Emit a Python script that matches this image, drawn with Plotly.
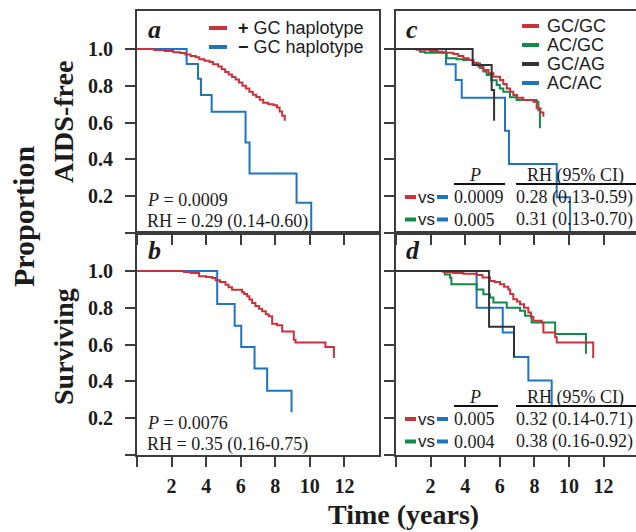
import plotly.graph_objects as go

W, H = 636, 532

# ---------------- data ----------------
# panel a: AIDS-free, by GC haplotype
a_pos_t = [0, 1.0, 1.6, 2.1, 2.5, 2.8, 3.1, 3.4, 3.6, 3.9, 4.2, 4.4, 4.7, 4.9, 5.1, 5.3, 5.5, 5.7,
           5.9, 6.1, 6.3, 6.5, 6.7, 6.9, 7.1, 7.3, 7.6, 7.9, 8.1, 8.25, 8.4, 8.55]
a_pos_s = [1.0, .995, .99, .983, .978, .97, .963, .955, .945, .937, .93, .918, .905, .89, .875, .862, .848, .835,
           .818, .80, .785, .768, .752, .74, .725, .708, .70, .695, .683, .66, .638, .61]
a_neg_t = [0, 2.87, 3.53, 3.70, 4.32, 6.28, 6.51, 9.23, 10.08]
a_neg_s = [1.0, .919, .838, .750, .659, .492, .323, .165, 0.0]

# panel b: surviving, by GC haplotype
b_pos_t = [0, 2.72, 3.1, 3.59, 4.0, 4.35, 4.55, 4.8, 5.12, 5.3, 5.5, 6.08, 6.2, 6.37, 6.5, 6.66, 6.85, 7.05,
           7.24, 7.45, 7.62, 7.82, 8.1, 8.4, 9.07, 9.17, 10.9, 11.39]
b_pos_s = [1.0, .995, .99, .972, .968, .963, .95, .94, .926, .912, .899, .885, .875, .863, .845, .827, .81, .795,
           .781, .765, .754, .714, .705, .672, .627, .612, .587, .527]
b_neg_t = [0, 4.64, 5.65, 6.03, 6.80, 7.53, 8.94]
b_neg_s = [1.0, .821, .703, .587, .470, .350, .233]

# panel c: AIDS-free, by genotype
c_gcgc_t = [0, 1.19, 1.96, 2.4, 2.73, 3.31, 3.6, 3.89, 4.2, 4.47, 4.75, 5.05, 5.35, 5.63, 6.01, 6.2, 6.4,
            6.6, 6.78, 7.0, 7.36, 7.94, 8.13, 8.35, 8.52]
c_gcgc_s = [1.0, .996, .99, .985, .98, .973, .962, .95, .94, .926, .905, .886, .868, .85, .832, .81, .786,
            .768, .75, .735, .723, .714, .678, .655, .632]
c_acgc_t = [0, 1.39, 1.68, 2.93, 3.5, 3.89, 4.47, 4.86, 5.05, 5.24, 5.5, 5.82, 6.0, 6.2, 6.59, 6.97, 8.13, 8.23, 8.32]
c_acgc_s = [1.0, .985, .98, .95, .945, .94, .922, .897, .878, .859, .83, .804, .785, .768, .738, .723, .714, .667, .569]
c_gcag_t = [0, 4.43, 5.53, 5.67]
c_gcag_s = [1.0, .913, .777, .61]
c_acac_t = [0, 2.89, 3.45, 3.80, 6.30, 6.53, 9.29, 10.06]
c_acac_s = [1.0, .917, .832, .735, .556, .375, .194, 0.0]

# panel d: surviving, by genotype
d_gcgc_t = [0, 2.74, 3.3, 3.89, 4.66, 5.0, 5.43, 5.7, 6.01, 6.25, 6.49, 6.6, 6.78, 7.0, 7.17, 7.4, 7.65,
            7.8, 7.94, 8.42, 8.52, 9.2, 9.29, 11.4]
d_gcgc_s = [1.0, .993, .99, .985, .978, .965, .946, .94, .928, .915, .90, .875, .847, .835, .82, .80, .775,
            .75, .73, .72, .666, .64, .612, .528]
d_acgc_t = [0, 2.83, 3.12, 3.2, 4.66, 5.05, 5.43, 5.63, 6.4, 7.17, 7.46, 7.84, 9.2, 10.98]
d_acgc_s = [1.0, .982, .964, .928, .90, .874, .856, .829, .80, .784, .757, .72, .658, .55]
d_gcag_t = [0, 5.38, 6.82]
d_gcag_s = [1.0, .697, .531]
d_acac_t = [0, 4.66, 6.17, 6.82, 7.65, 9.0]
d_acac_s = [1.0, .801, .666, .533, .405, .27]

x_tick_vals = [0, 2, 4, 6, 8, 10, 12]
x_tick_text = ["", "2", "4", "6", "8", "10", "12"]
y_tick_vals = [0, 0.2, 0.4, 0.6, 0.8, 1.0]
y_tick_text = ["", "0.2", "0.4", "0.6", "0.8", "1.0"]

legend_a = ["<b>+</b> GC haplotype", "<b>\u2212</b> GC haplotype"]
legend_c = ["GC/GC", "AC/GC", "GC/AG", "AC/AC"]
stats_a = ["<i>P</i> = 0.0009", "RH = 0.29 (0.14-0.60)"]
stats_b = ["<i>P</i> = 0.0076", "RH = 0.35 (0.16-0.75)"]
table_c_p = ["0.0009", "0.005"]
table_c_rh = ["0.28 (0.13-0.59)", "0.31 (0.13-0.70)"]
table_d_p = ["0.005", "0.004"]
table_d_rh = ["0.32 (0.14-0.71)", "0.38 (0.16-0.92)"]

# ---------------- style ----------------
RED = "#c8323c"
BLUE = "#1f74c2"
GREEN = "#13894a"
DARK = "#333333"
AX = "#3c3c3c"
TXT = "#1c1c1c"
SERIF = "Liberation Serif"
SANS = "Liberation Sans"


def px(x):
    return x / W


def py(y):
    return 1 - y / H


fig = go.Figure()


def km(t, s, color, xa, ya):
    fig.add_trace(go.Scatter(x=t, y=s, mode="lines", xaxis=xa, yaxis=ya,
                             line=dict(color=color, width=2, shape="hv"),
                             showlegend=False, hoverinfo="skip"))


km(a_neg_t, a_neg_s, BLUE, "x", "y")
km(a_pos_t, a_pos_s, RED, "x", "y")
km(b_neg_t, b_neg_s, BLUE, "x2", "y2")
km(b_pos_t, b_pos_s, RED, "x2", "y2")
km(c_acac_t, c_acac_s, BLUE, "x3", "y3")
km(c_acgc_t, c_acgc_s, GREEN, "x3", "y3")
km(c_gcgc_t, c_gcgc_s, RED, "x3", "y3")
km(c_gcag_t, c_gcag_s, DARK, "x3", "y3")
km(d_acac_t, d_acac_s, BLUE, "x4", "y4")
km(d_acgc_t, d_acgc_s, GREEN, "x4", "y4")
km(d_gcgc_t, d_gcgc_s, RED, "x4", "y4")
km(d_gcag_t, d_gcag_s, DARK, "x4", "y4")

tickfont = dict(family=SERIF, size=20, weight="bold", color=TXT)
LX = [px(137), px(379)]
RX = [px(396), 1.0]
TY = [py(233), py(11)]
BY = [py(455), py(233)]
YR = [0, 1.207]


def xax(domain, anchor, labels, rng):
    return dict(domain=domain, anchor=anchor, range=rng, showgrid=False, zeroline=False,
                showline=True, linecolor=AX, linewidth=2, mirror=True,
                ticks="outside", ticklen=10, tickwidth=2, tickcolor=AX,
                tickmode="array", tickvals=x_tick_vals, ticktext=x_tick_text,
                showticklabels=labels, tickfont=tickfont, ticklabelstandoff=2, fixedrange=True)


def yax(domain, anchor, labels, mirror):
    return dict(domain=domain, anchor=anchor, range=YR, showgrid=False, zeroline=False,
                showline=True, linecolor=AX, linewidth=2, mirror=mirror,
                ticks="outside", ticklen=10, tickwidth=2, tickcolor=AX,
                tickmode="array", tickvals=y_tick_vals, ticktext=y_tick_text,
                showticklabels=labels, tickfont=tickfont, ticklabelstandoff=8, fixedrange=True)


RR = [0, 240 / 17.3]
fig.update_layout(
    width=W, height=H, margin=dict(l=0, r=0, t=0, b=0),
    paper_bgcolor="white", plot_bgcolor="white", showlegend=False,
    xaxis=xax(LX, "y", False, [0, 14]), yaxis=yax(TY, "x", True, True),
    xaxis2=xax(LX, "y2", True, [0, 14]), yaxis2=yax(BY, "x2", True, True),
    xaxis3=xax(RX, "y3", False, RR), yaxis3=yax(TY, "x3", False, False),
    xaxis4=xax(RX, "y4", True, RR), yaxis4=yax(BY, "x4", False, False),
)

anns = []
shapes = []


def ann(text, x, y, size=18, family=SERIF, weight="normal", style="normal",
        xanchor="left", yanchor="middle", angle=0):
    anns.append(dict(text=text, x=px(x), y=py(y), xref="paper", yref="paper",
                     xanchor=xanchor, yanchor=yanchor, showarrow=False, textangle=angle,
                     font=dict(family=family, size=size, weight=weight, style=style, color=TXT)))


def seg(x0, x1, y, color, width=4):
    shapes.append(dict(type="line", xref="paper", yref="paper", x0=px(x0), x1=px(x1),
                       y0=py(y), y1=py(y), line=dict(color=color, width=width)))


# panel letters
for letter, x, y in [("a", 146, 29), ("b", 146, 251), ("c", 404, 29), ("d", 404, 251)]:
    ann(letter, x, y, size=26, weight="bold", style="italic")

# axis titles
ann("Proportion", 23, 217, size=30, weight="bold", xanchor="center", angle=-90)
ann("AIDS-free", 63, 122, size=28, weight="bold", xanchor="center", angle=-90)
ann("Surviving", 63, 347, size=28, weight="bold", xanchor="center", angle=-90)
ann("Time (years)", 403, 514, size=28, weight="bold", xanchor="center")

# legend a
for i, (lab, col) in enumerate(zip(legend_a, [RED, BLUE])):
    y = 28 + 19 * i
    seg(209, 227, y, col)
    ann(lab, 236, y, size=18, family=SANS)

# legend c
for i, (lab, col) in enumerate(zip(legend_c, [RED, GREEN, DARK, BLUE])):
    y = 26 + 19 * i
    seg(522, 539, y, col)
    ann(lab, 545, y, size=18, family=SANS)

# stats a / b
ann(stats_a[0], 145, 200)
ann(stats_a[1], 145, 221)
ann(stats_b[0], 145, 423)
ann(stats_b[1], 145, 444)


def table(y_head, p_vals, rh_vals, p_ul_end):
    ann("<i>P</i>", 475, y_head, xanchor="center")
    ann("RH (95% CI)", 575, y_head, xanchor="center")
    seg(454, p_ul_end, y_head + 9, "#111111", width=2)
    seg(516, 640, y_head + 9, "#111111", width=2)
    for i, (pv, rh, col) in enumerate(zip(p_vals, rh_vals, [RED, GREEN])):
        y = y_head + 22 + 22.5 * i
        seg(405, 416, y, col)
        ann("vs", 416, y, size=17, family=SANS)
        seg(437, 448, y, BLUE)
        ann(pv, 452, y)
        ann(rh, 514, y)


table(175, table_c_p, table_c_rh, 505)
table(397, table_d_p, table_d_rh, 498)

fig.update_layout(annotations=anns, shapes=shapes)
fig.write_html("out.html", config={"displayModeBar": False},
               post_script="document.body.style.margin='0';document.body.style.overflow='hidden';")
